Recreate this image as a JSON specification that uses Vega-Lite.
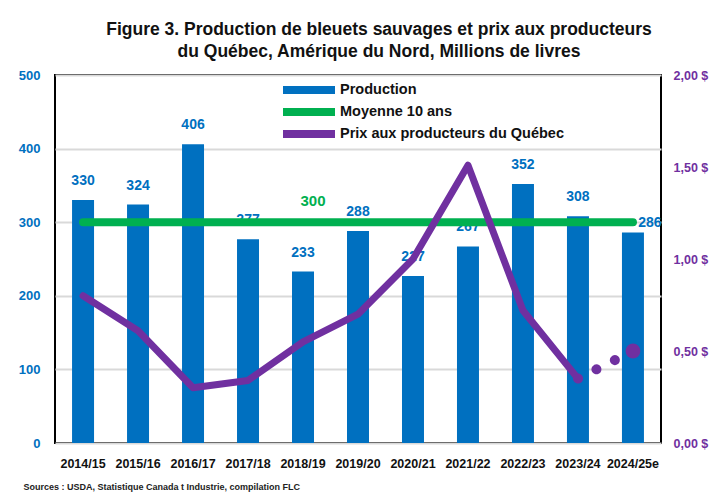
{
  "$schema": "https://vega.github.io/schema/vega-lite/v6.json",
  "width": 606,
  "height": 368,
  "autosize": "none",
  "padding": {"left": 55, "top": 75, "right": 48, "bottom": 50},
  "background": "white",
  "title": {
    "text": ["Figure 3. Production de bleuets sauvages et prix aux producteurs", "du Québec,  Amérique du Nord, Millions de livres"],
    "font": "Liberation Sans, Arial, sans-serif",
    "fontSize": 17.5,
    "fontWeight": "bold",
    "color": "#111111",
    "anchor": "middle",
    "dx": 21,
    "offset": 9,
    "lineHeight": 22
  },
  "datasets": {
    "main": [
      {"season": "2014/15", "production": 330, "prix": 0.80, "moyenne": 300},
      {"season": "2015/16", "production": 324, "prix": 0.61, "moyenne": 300},
      {"season": "2016/17", "production": 406, "prix": 0.30, "moyenne": 300},
      {"season": "2017/18", "production": 277, "prix": 0.34, "moyenne": 300},
      {"season": "2018/19", "production": 233, "prix": 0.55, "moyenne": 300},
      {"season": "2019/20", "production": 288, "prix": 0.70, "moyenne": 300},
      {"season": "2020/21", "production": 227, "prix": 1.00, "moyenne": 300},
      {"season": "2021/22", "production": 267, "prix": 1.51, "moyenne": 300},
      {"season": "2022/23", "production": 352, "prix": 0.72, "moyenne": 300},
      {"season": "2023/24", "production": 308, "prix": 0.35, "moyenne": 300},
      {"season": "2024/25e", "production": 286, "prix": null, "moyenne": 300}
    ],
    "estim": [
      {"season": "2023/24", "prix": 0.35},
      {"season": "2024/25e", "prix": 0.50}
    ],
    "avglabel": [
      {"season": "2018/19", "value": 300, "label": "300"}
    ]
  },
  "config": {
    "font": "Liberation Sans, Arial, sans-serif",
    "view": {"stroke": "#000000", "strokeWidth": 2},
    "legend": {
      "orient": "none",
      "legendX": 219,
      "legendY": 7,
      "title": null,
      "labelFontSize": 14.5,
      "labelFontWeight": "bold",
      "labelColor": "#111111",
      "labelLimit": 0,
      "symbolType": "M0,0H10.4",
      "symbolStrokeWidth": 8,
      "symbolSize": 100,
      "clipHeight": 16,
      "rowPadding": 6,
      "labelOffset": 48
    }
  },
  "encoding": {
    "x": {
      "field": "season",
      "type": "nominal",
      "sort": null,
      "scale": {"paddingInner": 0.6, "paddingOuter": 0.31},
      "axis": {
        "title": "Sources : USDA, Statistique Canada t Industrie, compilation FLC",
        "titleAnchor": "start",
        "titleX": -32,
        "titleY": 39,
        "titleFontSize": 9,
        "titleFontWeight": "bold",
        "titleColor": "#222222",
        "labelAngle": 0,
        "labelFontSize": 12.5,
        "labelFontWeight": "bold",
        "labelColor": "#111111",
        "labelPadding": 14,
        "ticks": false,
        "domain": false
      }
    }
  },
  "layer": [
    {
      "data": {"name": "main"},
      "layer": [
        {
          "mark": {"type": "bar", "color": "#0070C0"},
          "encoding": {
            "y": {
              "field": "production",
              "type": "quantitative",
              "scale": {"domain": [0, 500]},
              "axis": {
                "title": null,
                "orient": "left",
                "values": [0, 100, 200, 300, 400, 500],
                "labelFontSize": 13,
                "labelFontWeight": "bold",
                "labelColor": "#0070C0",
                "labelPadding": 15,
                "ticks": false,
                "domain": false,
                "grid": true,
                "gridColor": "#D9D9D9",
                "gridWidth": 2
              }
            },
            "color": {
              "datum": "Production",
              "type": "nominal",
              "scale": {
                "domain": ["Production", "Moyenne 10 ans", "Prix aux producteurs du Québec"],
                "range": ["#0070C0", "#00B050", "#7030A0"]
              },
              "legend": {"symbolType": "M0,0H10.4", "fillColor": "white"}
            }
          }
        },
        {
          "transform": [{"filter": "datum.season != '2024/25e'"}],
          "mark": {"type": "text", "dy": -19, "fontSize": 14, "fontWeight": "bold", "color": "#0070C0"},
          "encoding": {
            "y": {"field": "production", "type": "quantitative"},
            "text": {"field": "production", "type": "quantitative"}
          }
        },
        {
          "transform": [{"filter": "datum.season == '2024/25e'"}],
          "mark": {"type": "text", "dy": -10, "dx": 17, "fontSize": 14, "fontWeight": "bold", "color": "#0070C0"},
          "encoding": {
            "y": {"field": "production", "type": "quantitative"},
            "text": {"field": "production", "type": "quantitative"}
          }
        },
        {
          "mark": {"type": "line", "strokeWidth": 8, "strokeCap": "round"},
          "encoding": {
            "y": {"field": "moyenne", "type": "quantitative"},
            "color": {"datum": "Moyenne 10 ans", "type": "nominal"}
          }
        },
        {
          "data": {"name": "avglabel"},
          "mark": {"type": "text", "dx": 10, "dy": -21, "fontSize": 15, "fontWeight": "bold", "color": "#00B050"},
          "encoding": {
            "y": {"field": "value", "type": "quantitative"},
            "text": {"field": "label", "type": "nominal"}
          }
        }
      ]
    },
    {
      "layer": [
        {
          "data": {"name": "main"},
          "transform": [{"filter": "datum.prix != null"}],
          "mark": {"type": "line", "strokeWidth": 7, "strokeCap": "round", "strokeJoin": "round"},
          "encoding": {
            "y": {
              "field": "prix",
              "type": "quantitative",
              "scale": {"domain": [0, 2]},
              "axis": {
                "title": null,
                "orient": "right",
                "values": [0, 0.5, 1, 1.5, 2],
                "labelExpr": "replace(format(datum.value, '.2f'), '.', ',') + ' $'",
                "labelFontSize": 12.5,
                "labelFontWeight": "bold",
                "labelColor": "#7030A0",
                "labelPadding": 12,
                "ticks": false,
                "domain": false,
                "grid": false
              }
            },
            "color": {"datum": "Prix aux producteurs du Québec", "type": "nominal"}
          }
        },
        {
          "data": {"name": "estim"},
          "mark": {"type": "line", "strokeWidth": 10, "strokeCap": "round", "strokeDash": [0.1, 20.5], "color": "#7030A0"},
          "encoding": {
            "y": {"field": "prix", "type": "quantitative"}
          }
        },
        {
          "data": {"name": "estim"},
          "transform": [{"filter": "datum.season == '2024/25e'"}],
          "mark": {"type": "point", "filled": true, "size": 220, "opacity": 1, "color": "#7030A0"},
          "encoding": {
            "y": {"field": "prix", "type": "quantitative"}
          }
        }
      ]
    }
  ],
  "resolve": {"scale": {"y": "independent"}}
}
